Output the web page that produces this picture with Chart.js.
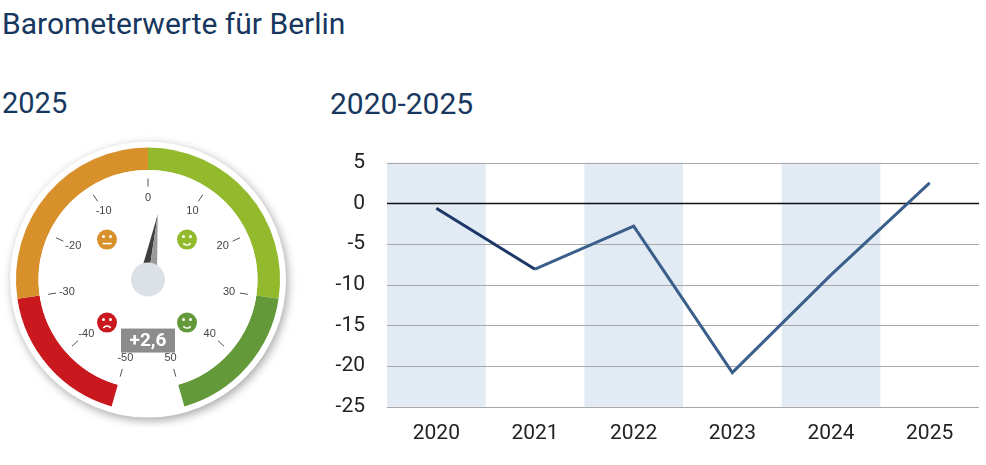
<!DOCTYPE html>
<html><head><meta charset="utf-8">
<script src="https://cdn.jsdelivr.net/npm/chart.js@4/dist/chart.umd.min.js"></script>
<style>
body{margin:0;width:986px;height:465px;background:#fff;overflow:hidden;font-family:"Roboto",sans-serif;color:#17375e;position:relative}
.t{position:absolute;font-size:30px;white-space:nowrap}
#gauge{position:absolute;left:-2px;top:127px}
#line{position:absolute;left:330px;top:136px}
</style></head><body>
<div class="t" style="left:2px;top:6px">Barometerwerte für Berlin</div>
<div class="t" style="left:2px;top:86px;font-size:29px">2025</div>
<div class="t" style="left:330px;top:86px;font-size:30px">2020-2025</div>
<canvas id="gauge" width="300" height="300"></canvas>
<canvas id="line" width="650" height="316"></canvas>
<script>
// gauge
var gaugeSegments = [20, 30, 30, 20];          // -50..-30, -30..0, 0..30, 30..50
var gaugeColors = ['#c9191e', '#d8902a', '#93ba2c', '#64993a'];
var gaugeTicks = [-50, -40, -30, -20, -10, 0, 10, 20, 30, 40, 50];
var gaugeValue = 2.6;
var gaugeLabel = '+2,6';

// line
var years = ['2020', '2021', '2022', '2023', '2024', '2025'];
var barometer = [-0.6, -8.1, -2.8, -20.8, -8.8, 2.5];
var shadedYears = ['2020', '2022', '2024'];

var SPAN = 164; // degrees from top to +/-50

function face(ctx, x, y, col, mood) {
  ctx.fillStyle = col;
  ctx.beginPath(); ctx.arc(x, y, 10, 0, Math.PI * 2); ctx.fill();
  ctx.fillStyle = '#fff'; ctx.strokeStyle = '#fff'; ctx.lineWidth = 1.6;
  ctx.beginPath(); ctx.arc(x - 3.5, y - 3, 1.5, 0, Math.PI * 2); ctx.arc(x + 3.5, y - 3, 1.5, 0, Math.PI * 2); ctx.fill();
  ctx.beginPath();
  if (mood > 0) ctx.arc(x, y + 1, 4.5, 0.2 * Math.PI, 0.8 * Math.PI);
  else if (mood < 0) ctx.arc(x, y + 8, 4.5, 1.2 * Math.PI, 1.8 * Math.PI);
  else { ctx.moveTo(x - 4.5, y + 4); ctx.lineTo(x + 4.5, y + 4); }
  ctx.stroke();
}

var gaugePlugin = {
  id: 'gaugeDeco',
  beforeDraw: function (chart) {
    var ctx = chart.ctx, m = chart.getDatasetMeta(0).data[0];
    ctx.save();
    ctx.shadowColor = 'rgba(0,0,0,0.35)'; ctx.shadowBlur = 10; ctx.shadowOffsetX = 2; ctx.shadowOffsetY = 3;
    ctx.fillStyle = '#fff';
    ctx.beginPath(); ctx.arc(m.x, m.y, m.outerRadius + 6, 0, Math.PI * 2); ctx.fill();
    ctx.restore();
  },
  afterDraw: function (chart) {
    var ctx = chart.ctx, m = chart.getDatasetMeta(0).data[0];
    var cx = m.x, cy = m.y;
    ctx.save();
    ctx.fillStyle = '#fff';
    ctx.beginPath(); ctx.arc(cx, cy, m.innerRadius, 0, Math.PI * 2); ctx.fill();
    ctx.strokeStyle = '#555'; ctx.lineWidth = 1; ctx.fillStyle = '#444';
    ctx.font = '11px "Liberation Sans", sans-serif'; ctx.textAlign = 'center'; ctx.textBaseline = 'middle';
    gaugeTicks.forEach(function (v) {
      var a = v / 50 * SPAN * Math.PI / 180, s = Math.sin(a), c = -Math.cos(a);
      ctx.beginPath(); ctx.moveTo(cx + s * 93, cy + c * 93); ctx.lineTo(cx + s * 101, cy + c * 101); ctx.stroke();
      ctx.fillText(String(v), cx + s * 82, cy + c * 82);
    });
    face(ctx, cx - 41, cy - 40, gaugeColors[1], 0);
    face(ctx, cx + 39, cy - 40, gaugeColors[2], 1);
    face(ctx, cx - 41, cy + 43, gaugeColors[0], -1);
    face(ctx, cx + 39, cy + 43, gaugeColors[3], 1);
    // needle
    var a = gaugeValue / 50 * SPAN * Math.PI / 180, s = Math.sin(a), c = -Math.cos(a);
    var px = Math.cos(a), py = Math.sin(a);
    var tx = cx + s * 66, ty = cy + c * 66;
    ctx.fillStyle = '#3f3f3f';
    ctx.beginPath(); ctx.moveTo(tx, ty); ctx.lineTo(cx - px * 9, cy - py * 9); ctx.lineTo(cx, cy); ctx.fill();
    ctx.fillStyle = '#9a9a9a';
    ctx.beginPath(); ctx.moveTo(tx, ty); ctx.lineTo(cx + px * 9, cy + py * 9); ctx.lineTo(cx, cy); ctx.fill();
    ctx.fillStyle = '#dce1e8';
    ctx.beginPath(); ctx.arc(cx, cy, 17, 0, Math.PI * 2); ctx.fill();
    // value box
    ctx.fillStyle = '#8c8c8c'; ctx.fillRect(cx - 27, cy + 49, 54, 24);
    ctx.fillStyle = '#fff'; ctx.font = 'bold 19px Roboto, sans-serif';
    ctx.fillText(gaugeLabel, cx, cy + 62);
    ctx.restore();
  }
};

new Chart(document.getElementById('gauge'), {
  type: 'doughnut',
  data: { datasets: [{ data: gaugeSegments, backgroundColor: gaugeColors, borderWidth: 0 }] },
  options: {
    responsive: false, animation: false, events: [],
    rotation: -SPAN, circumference: SPAN * 2, cutout: '83%',
    layout: { padding: 18 },
    plugins: { legend: { display: false }, tooltip: { enabled: false } }
  },
  plugins: [gaugePlugin]
});

var bandPlugin = {
  id: 'bands',
  beforeDatasetsDraw: function (chart) {
    var ctx = chart.ctx, x = chart.scales.x, area = chart.chartArea;
    var w = (area.right - area.left) / years.length;
    ctx.save(); ctx.fillStyle = '#e2eaf4';
    shadedYears.forEach(function (y) {
      var px = x.getPixelForValue(years.indexOf(y));
      ctx.fillRect(px - w / 2, area.top, w, area.bottom - area.top);
    });
    var yS = chart.scales.y;
    yS.ticks.forEach(function (t) {
      var py = Math.round(yS.getPixelForValue(t.value)) + 0.5;
      ctx.strokeStyle = t.value === 0 ? '#111' : '#a8a8a8'; ctx.lineWidth = t.value === 0 ? 1.3 : 1;
      ctx.beginPath(); ctx.moveTo(area.left, py); ctx.lineTo(area.right, py); ctx.stroke();
    });
    ctx.restore();
  }
};

new Chart(document.getElementById('line'), {
  type: 'line',
  data: {
    labels: years,
    datasets: [{
      data: barometer, borderWidth: 3, pointRadius: 0, tension: 0, borderColor: '#3a5f8a',
      segment: { borderColor: function (c) { return c.p0DataIndex === 0 ? '#1c3767' : '#3a5f8a'; } }
    }]
  },
  options: {
    responsive: false, animation: false, events: [],
    layout: { padding: { left: 0, right: 1, top: 10, bottom: 0 } },
    scales: {
      x: { offset: true, grid: { display: false }, border: { display: false },
        ticks: { color: '#222', font: { size: 21, family: 'Roboto' }, padding: 6 } },
      y: { min: -25, max: 5, afterFit: function (s) { s.width = 57; },
        grid: { display: false }, border: { display: false },
        ticks: { stepSize: 5, color: '#222', font: { size: 21, family: 'Roboto' }, padding: 14 } }
    },
    plugins: { legend: { display: false }, tooltip: { enabled: false } }
  },
  plugins: [bandPlugin]
});
</script>
</body></html>
